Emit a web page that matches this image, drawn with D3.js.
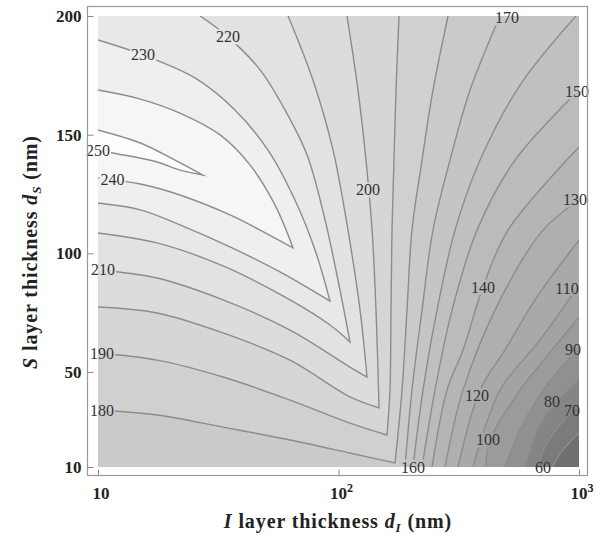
<!DOCTYPE html>
<html><head><meta charset="utf-8">
<script src="https://cdn.jsdelivr.net/npm/d3@7"></script>
<style>body{margin:0;background:#fff}</style>
</head><body>
<svg id="chart" width="602" height="537"></svg>
<script>
// ---- Data (I layer thickness dI in nm, S layer thickness dS in nm) ----
const levels = [60,70,80,90,100,110,120,130,140,150,160,170,180,190,200,210,220,230,240,250];
const xTicks = [10, 100, 1000];
const xTickLabels = [["10",""],["10","2"],["10","3"]];
const yTicks = [10, 50, 100, 150, 200];

// contour lines, each a list of segments of [dI, dS] points
const c250 = [[[10,152.0],[15.0,146.5],[20.9,139.3],[27.3,133.0]],
              [[27.3,133.0],[21.9,135.1],[17.6,138.5],[11.5,142.3],[10,143.5]]];
const c240 = [[[10,168.8],[15.0,165.0],[21.9,159.1],[32.2,149.9],[42.9,137.2],[54.4,120.4],[64.7,102.3]],
              [[64.7,102.3],[47.2,109.8],[35.4,116.2],[21.9,124.6],[15.0,129.2],[10,131.8]]];
const c230 = [[[10,189.9],[15.4,183.6],[25.3,173.9],[37.1,160.4],[50.9,143.5],[65.9,122.5],[79.9,101.4],[92.2,79.9]],
              [[92.2,79.9],[57.1,92.2],[35.4,102.7],[21.9,112.0],[15.0,118.3],[10,121.2]]];
const c220 = [[[26.6,200],[34.7,191.2],[47.2,177.3],[59.9,160.4],[74.0,141.4],[87.9,114.1],[101.4,84.6],[111.6,62.7]],
              [[111.6,62.7],[92.2,69.8],[62.9,80.4],[33.1,94.7],[17.6,104.4],[10,108.6]]];
const c210 = [[[61.7,200],[78.3,173.0],[94.9,143.5],[109.5,109.8],[122.9,76.1],[131.4,47.9]],
              [[131.4,47.9],[111.6,52.1],[62.9,67.7],[33.1,80.4],[17.6,89.6],[10,93.0]]];
const c200 = [[[108.5,200],[120.5,168.8],[130.1,139.3],[137.9,109.8],[143.2,76.1],[147.4,34.9]],
              [[147.4,34.9],[111.6,39.5],[62.9,55.0],[33.1,66.5],[17.6,74.9],[10,77.4]]];
const c190 = [[[178.5,200],[173.4,168.8],[170.1,139.3],[166.9,109.8],[165.3,76.1],[163.7,42.4],[159.1,23.5]],
              [[159.1,23.5],[111.6,28.5],[62.9,38.2],[33.1,47.9],[17.6,55.0],[10,58.0]]];
const c180 = [[[285.4,200],[247.1,168.8],[222.5,139.3],[202.1,109.8],[192.7,76.1],[183.7,42.4],[171.8,11.7]],
              [[171.8,11.7],[111.6,15.9],[62.9,21.4],[33.1,26.8],[17.6,31.9],[10,34.0]]];
const c170 = [[[469.6,200],[352.4,168.8],[290.9,139.3],[247.1,109.8],[222.5,76.1],[202.1,42.4],[189.0,10]]];
const c160 = [[[971.6,200],[568.5,170.9],[387.8,139.3],[305.2,109.8],[256.8,76.1],[224.6,42.4],[204.1,10]]];
const c150 = [[[1000,168.8],[541.9,139.3],[376.8,109.8],[296.5,76.1],[251.9,42.4],[222.5,10]]];
const c140 = [[[1000,144.8],[506.8,109.8],[399.0,85.8],[329.4,59.3],[282.6,42.4],[244.8,10]]];
const c130 = [[[1000,122.5],[708.5,109.8],[469.6,80.4],[329.4,42.4],[277.3,10]]];
const c120 = [[[1000,105.6],[656,80.4],[492.4,59.3],[387.8,42.4],[314.1,10]]];
const c110 = [[[1000,86.7],[688.4,63.5],[469.6,42.4],[362.7,10]]];
const c100 = [[[1000,73.2],[743,57.2],[568.5,42.4],[427,21.4],[410,10]]];
const c90  = [[[1000,60.1],[708.5,42.4],[568.5,25.6],[492.4,10]]];
const c80  = [[[1000,46.7],[834,39.1],[688.4,27.7],[596.3,10]]];
const c70  = [[[1000,35.3],[834,27.7],[722,18.4],[675,10]]];
const c60  = [[[1000,24.3],[858,17.2],[772.3,10]]];
const contourLines = [c60,c70,c80,c90,c100,c110,c120,c130,c140,c150,c160,c170,c180,c190,c200,c210,c220,c230,c240,c250];

// contour labels
const labelValues = [250,240,230,220,210,200,190,180,170,160,150,140,130,120,110,100,90,80,70,60];
const labelDI = [10,11.5,15.4,34.7,10.5,132.6,10.4,10.4,502,204,981,399,962,377,891,418,944,772,935,709];
const labelDS = [143.5,131.3,183.6,191.2,93.0,126.7,58.0,34.0,199.2,10,168.0,85.8,122.5,40.3,85.4,21.4,59.3,37.4,34.0,10];

// ---- Drawing ----
const svg = d3.select("#chart");
const x = d3.scaleLog().domain([10,1000]).range([98,579]);
const y = d3.scaleLinear().domain([10,200]).range([467,16]);
const X0=x(10), X1=x(1000), Y0=y(200), Y1=y(10);
const W=X1-X0, H=Y1-Y0, P=2*W+2*H;
const color = d3.scaleLinear()
  .domain([55,100,140,175,200,230,255])
  .range(["#707070","#a0a0a0","#b8b8b8","#cacaca","#d9d9d9","#ebebeb","#fdfdfd"]);

function perim([px,py]){
  const d=[Math.abs(py-Y0),Math.abs(px-X1),Math.abs(py-Y1),Math.abs(px-X0)];
  const k=d.indexOf(Math.min(...d));
  if(k===0) return px-X0;
  if(k===1) return W+(py-Y0);
  if(k===2) return W+H+(X1-px);
  return 2*W+H+(Y1-py);
}
const corners=[[0,[X0,Y0]],[W,[X1,Y0]],[W+H,[X1,Y1]],[2*W+H,[X0,Y1]]];
function closing(endPt,startPt){
  const t0=perim(endPt); let t1=perim(startPt);
  if(t1<=t0) t1+=P;
  const pts=[];
  corners.forEach(([tc,c])=>{[0,P].forEach(off=>{const t=tc+off; if(t>t0&&t<t1) pts.push([t,c]);});});
  pts.sort((a,b)=>a[0]-b[0]);
  return pts.map(p=>p[1]);
}
const line = d3.line().x(d=>x(d[0])).y(d=>y(d[1])).curve(d3.curveCatmullRom.alpha(0.5));
function openPath(segs){
  let s='';
  segs.forEach((seg,i)=>{ let p=line(seg); if(i>0) p=p.replace(/^M[^CLQ]*/,''); s+=p; });
  return s;
}
function fillPath(segs){
  let s=openPath(segs);
  const a=segs[0][0], last=segs[segs.length-1], b=last[last.length-1];
  closing([x(b[0]),y(b[1])],[x(a[0]),y(a[1])]).forEach(c=>{s+='L'+c[0]+','+c[1];});
  return s+'Z';
}

const defs = svg.append("defs");
defs.append("clipPath").attr("id","plotclip").append("rect")
  .attr("x",X0).attr("y",Y0).attr("width",W).attr("height",H);
const mask = defs.append("mask").attr("id","labelmask").attr("maskUnits","userSpaceOnUse")
  .attr("x",0).attr("y",0).attr("width",602).attr("height",537);
mask.append("rect").attr("x",0).attr("y",0).attr("width",602).attr("height",537).attr("fill","#fff");

// fills
const fills = svg.append("g").attr("clip-path","url(#plotclip)");
fills.append("rect").attr("x",X0).attr("y",Y0).attr("width",W).attr("height",H).attr("fill",color(55));
levels.forEach((lv,i)=>{
  fills.append("path").attr("d",fillPath(contourLines[i])).attr("fill",color(lv+5));
});

// lines
const lines = svg.append("g").attr("mask","url(#labelmask)").append("g").attr("clip-path","url(#plotclip)");
levels.forEach((lv,i)=>{
  lines.append("path").attr("d",openPath(contourLines[i]))
    .attr("fill","none").attr("stroke","#8c8c8c").attr("stroke-width",1.4)
    .attr("stroke-linejoin","miter").attr("stroke-miterlimit",20);
});

// labels
const lab = svg.append("g").attr("font-family","'Liberation Serif', serif").attr("font-size",16).attr("fill","#333");
labelValues.forEach((v,i)=>{
  const t = lab.append("text").attr("x",x(labelDI[i])).attr("y",y(labelDS[i]))
    .attr("text-anchor","middle").attr("dominant-baseline","central").text(v);
  const bb = t.node().getBBox();
  mask.append("rect").attr("x",bb.x-1).attr("y",bb.y+1).attr("width",bb.width+2).attr("height",bb.height-2).attr("fill","#000");
});

// frame
const FX0=87, FX1=587, FY0=6, FY1=475;
svg.append("rect").attr("x",FX0+0.5).attr("y",FY0+0.5).attr("width",FX1-FX0).attr("height",FY1-FY0)
  .attr("fill","none").attr("stroke","#9a9a9a").attr("stroke-width",1.2);

// axes
const font = "'Liberation Serif', 'Times New Roman', serif";
const yAxis = d3.axisLeft(y).tickValues(yTicks).tickSizeInner(-6).tickSizeOuter(0).tickPadding(6);
const gy = svg.append("g").attr("transform",`translate(${FX0+0.5},0)`).call(yAxis);
gy.select(".domain").remove();
gy.selectAll("line").attr("stroke","#8a8a8a");
gy.selectAll("text").attr("font-family",font).attr("font-weight","bold").attr("font-size",17).attr("fill","#222");

const xAxis = d3.axisBottom(x).tickValues(xTicks).tickSizeInner(-6).tickSizeOuter(0).tickFormat("");
const gx = svg.append("g").attr("transform",`translate(0,${FY1+0.5})`).call(xAxis);
gx.select(".domain").remove();
gx.selectAll("line").attr("stroke","#8a8a8a");
xTicks.forEach((v,i)=>{
  const t = svg.append("text").attr("x",x(v)+3).attr("y",499).attr("text-anchor","middle")
    .attr("font-family",font).attr("font-weight","bold").attr("font-size",17).attr("fill","#222");
  t.append("tspan").text(xTickLabels[i][0]);
  if(xTickLabels[i][1]) t.append("tspan").attr("dy",-7).attr("font-size",12).text(xTickLabels[i][1]);
});

// axis titles
const xt = svg.append("text").attr("x",338).attr("y",528).attr("text-anchor","middle")
  .attr("font-family",font).attr("font-weight","bold").attr("font-size",20).attr("letter-spacing",0.9).attr("fill","#222");
xt.append("tspan").attr("font-style","italic").text("I");
xt.append("tspan").text(" layer thickness ");
xt.append("tspan").attr("font-style","italic").text("d");
xt.append("tspan").attr("font-style","italic").attr("font-size",13).attr("dy",4).text("I");
xt.append("tspan").attr("dy",-4).text("  (nm)");

const yt = svg.append("text").attr("transform","translate(37,252) rotate(-90)").attr("text-anchor","middle")
  .attr("font-family",font).attr("font-weight","bold").attr("font-size",20).attr("letter-spacing",0.9).attr("fill","#222");
yt.append("tspan").attr("font-style","italic").text("S");
yt.append("tspan").text(" layer thickness ");
yt.append("tspan").attr("font-style","italic").text("d");
yt.append("tspan").attr("font-style","italic").attr("font-size",13).attr("dy",4).text("S");
yt.append("tspan").attr("dy",-4).text("  (nm)");
</script>
</body></html>
